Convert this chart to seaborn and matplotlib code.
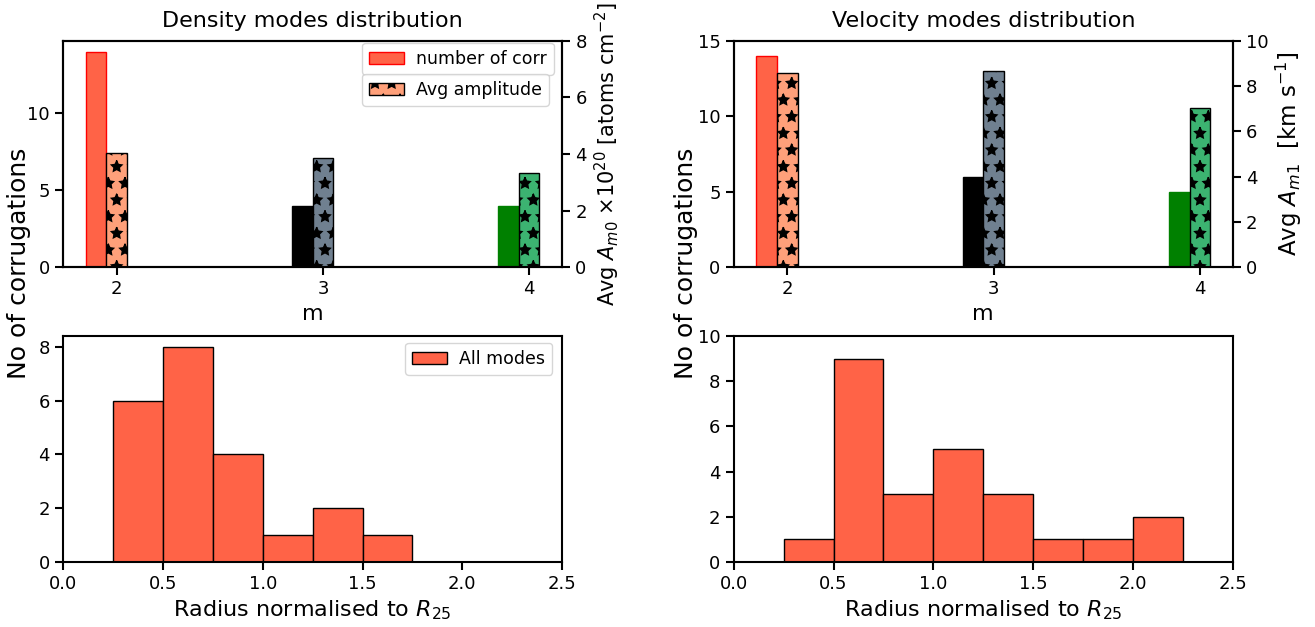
import numpy as np
import matplotlib
matplotlib.use("Agg")
import matplotlib.pyplot as plt
import seaborn as sns

# ---- data ----
modes = [2, 3, 4]
dens_counts = [14, 4, 4]
dens_amp = [4.05, 3.87, 3.31]
vel_counts = [14, 6, 5]
vel_amp = [8.56, 8.66, 7.02]

bin_edges = [0.0, 0.25, 0.5, 0.75, 1.0, 1.25, 1.5, 1.75, 2.0, 2.25, 2.5]
dens_radius_counts = [0, 6, 8, 4, 1, 2, 1, 0, 0, 0]
vel_radius_counts = [0, 1, 9, 3, 5, 3, 1, 1, 2, 0]

count_colors = ["tomato", "black", "green"]
count_edges = ["red", "black", "green"]
amp_colors = ["lightsalmon", "slategray", "mediumseagreen"]

sns.set_theme(style="ticks")
plt.rcParams.update({
    "font.family": ["DejaVu Sans"],
    "axes.linewidth": 1.5,
    "xtick.major.width": 1.5,
    "ytick.major.width": 1.5,
    "xtick.major.size": 6,
    "ytick.major.size": 6,
    "xtick.labelsize": 13,
    "ytick.labelsize": 13,
    "axes.labelsize": 16,
    "axes.titlesize": 16,
    "legend.fontsize": 12.5,
    "legend.handletextpad": 0.7,
    "hatch.linewidth": 1.0,
    "axes.edgecolor": "black",
    "xtick.color": "black",
    "ytick.color": "black",
    "text.color": "black",
    "axes.labelcolor": "black",
})

fig = plt.figure(figsize=(13.15, 6.27), dpi=100)

W = 0.3795
H = 0.361
ax_tl = fig.add_axes([0.048, 0.574, W, H])
ax_tr = fig.add_axes([0.558, 0.574, W, H])
ax_bl = fig.add_axes([0.048, 0.104, W, 0.360])
ax_br = fig.add_axes([0.558, 0.104, W, 0.360])

bw = 0.1
modes_arr = np.array(modes, dtype=float)


def top_panel(ax, counts, amps, title, ylab, ylab_size, ytop, with_legend):
    b1 = ax.bar(modes_arr - bw, counts, width=bw, color=count_colors,
                edgecolor=count_edges, linewidth=1.0, label="number of corr")
    ax.set_xticks(modes)
    ax.set_xlabel("m")
    ax.set_title(title, pad=10)
    twin = ax.twinx()
    b2 = twin.bar(modes_arr, amps, width=bw, color=amp_colors,
                  edgecolor="black", linewidth=1.0, hatch="*",
                  label="Avg amplitude")
    twin.set_ylim(0, ytop)
    twin.set_ylabel(ylab, fontsize=ylab_size)
    for sp in ["top", "right"]:
        ax.spines[sp].set_visible(True)
        twin.spines[sp].set_visible(True)
    if with_legend:
        ax.legend(handles=[b1], loc="upper left",
                  bbox_to_anchor=(0.599, 0.991), borderaxespad=0.0)
        twin.legend(handles=[b2], loc="upper left",
                    bbox_to_anchor=(0.599, 0.854), borderaxespad=0.0)
    return twin


top_panel(ax_tl, dens_counts, dens_amp, "Density modes distribution",
          r"Avg $A_{m0}$ $\times 10^{20}$ [atoms cm$^{-2}$]", 15, 8, True)
ax_tl.set_yticks([0, 5, 10])
t2 = top_panel(ax_tr, vel_counts, vel_amp, "Velocity modes distribution",
               r"Avg $A_{m1}$  [km s$^{-1}$]", 16.5, 10, False)
ax_tr.set_ylim(0, 15)
ax_tr.set_yticks([0, 5, 10, 15])

centers = [(bin_edges[i] + bin_edges[i + 1]) / 2 for i in range(len(bin_edges) - 1)]

sns.histplot(x=centers, weights=dens_radius_counts, bins=bin_edges, ax=ax_bl,
             color="tomato", edgecolor="black", linewidth=1.0, alpha=1,
             label="All modes")
sns.histplot(x=centers, weights=vel_radius_counts, bins=bin_edges, ax=ax_br,
             color="tomato", edgecolor="black", linewidth=1.0, alpha=1)
for ax in (ax_bl, ax_br):
    ax.set_xlim(0, 2.5)
    ax.set_xticks([0.0, 0.5, 1.0, 1.5, 2.0, 2.5])
    ax.set_xlabel(r"Radius normalised to $R_{25}$")
    ax.set_ylabel("")
    for sp in ["top", "right"]:
        ax.spines[sp].set_visible(True)
ax_bl.set_yticks([0, 2, 4, 6, 8])
ax_br.set_ylim(0, 10)
ax_br.set_yticks([0, 2, 4, 6, 8, 10])
ax_bl.legend(loc="upper right", bbox_to_anchor=(0.98, 0.97), borderaxespad=0.0)

fig.text(0.0145, 0.58, "No of corrugations", rotation=90, ha="center",
         va="center", fontsize=18)
fig.text(0.522, 0.58, "No of corrugations", rotation=90, ha="center",
         va="center", fontsize=18)

fig.savefig("out.png", dpi=100)
